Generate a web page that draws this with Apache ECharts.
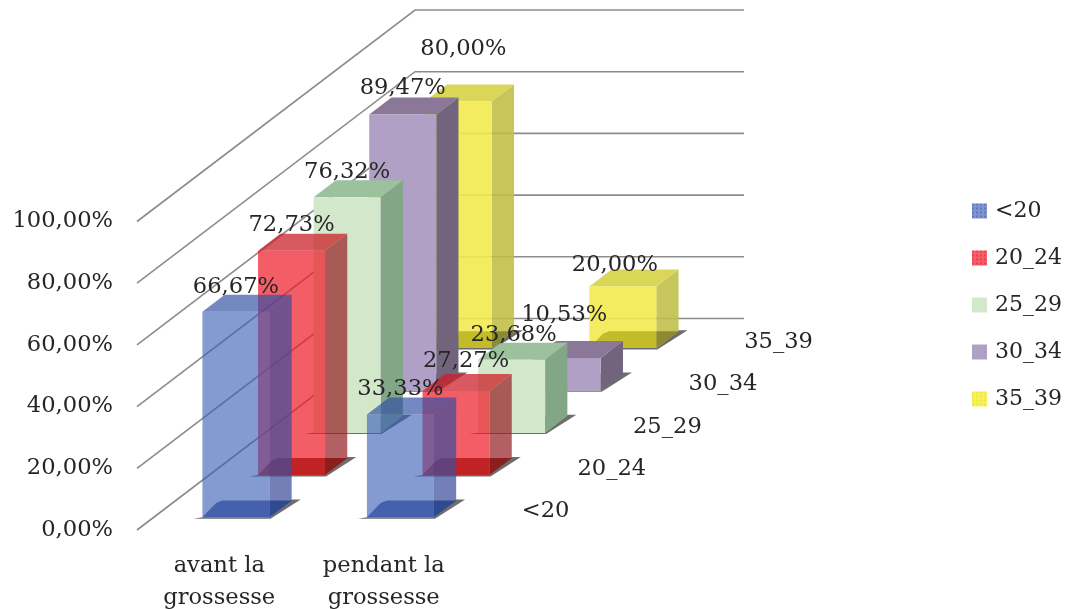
<!DOCTYPE html>
<html><head><meta charset="utf-8">
<style>html,body{margin:0;padding:0;background:#fff}#c{width:1069px;height:609px}</style>
<script src="https://cdn.jsdelivr.net/npm/echarts@6/dist/echarts.min.js"></script>
</head><body><div id="c"></div>
<script>
// ---- data ----
const categories = ['avant la\ngrossesse', 'pendant la\ngrossesse'];
const seriesNames = ['<20', '20_24', '25_29', '30_34', '35_39'];
const valuesUnder20 = [66.67, 33.33];
const values2024 = [72.73, 27.27];
const values2529 = [76.32, 23.68];
const values3034 = [89.47, 10.53];
const values3539 = [80.00, 20.00];
const ticks = [0, 20, 40, 60, 80, 100];

// ---- style ----
const FONT = '"DejaVu Serif"';
const TEXT = '#262626';
const FS = 22.6;
const STEP = [55.6, -42.3];      // projection of one depth row, px
const BAR_RATIO = 67 / 164.5;    // front-face width / category width
const DEPTH_RATIO = 0.4;         // bar depth / depth row
const palette = [
  {legend:'#7e95d0', front:'rgba(57,94,181,.62)', side:'rgba(62,78,155,.72)', top:'rgba(50,80,165,.68)', floor:'#4561ad', floorSide:'#2f4a8f'},
  {legend:'#f3606a', front:'rgba(238,24,37,.7)', side:'rgba(150,35,40,.72)', top:'rgba(205,30,40,.74)', floor:'#c02226', floorSide:'#8a1f1e'},
  {legend:'#d3e8cb', front:'#d3e8cb', side:'#82a686', top:'#9bc29d', floor:'#d3e8cb', floorSide:'#82a686'},
  {legend:'#b0a0c6', front:'#b0a0c6', side:'#72647d', top:'#8b7898', floor:'#b0a0c6', floorSide:'#72647d'},
  {legend:'#f6f05c', front:'rgba(243,234,79,.9)', side:'rgba(190,190,70,.88)', top:'rgba(214,210,70,.9)', floor:'#c2bb2a', floorSide:'#8e8a30'}
];
// hand-placed label shifts in the reference, [dx, dy] per depth row and category
const labelNudge = [
  [[0, 1], [0, 1]],
  [[0, 0], [10, -4]],
  [[0, 1], [2, 1]],
  [[0, 0], [-3, -17]],
  [[5, -26], [-8, 5]]
];

function pct(v) { return v.toFixed(2).replace('.', ',') + '%'; }

function barRender(depth) {
  const c = palette[depth];
  return function (params, api) {
    const cat = api.value(0), val = api.value(1);
    const catW = api.size([1, 0])[0];
    const w = catW * BAR_RATIO;
    const base = api.coord([cat, 0]);
    const head = api.coord([cat, val]);
    const gap = (1 - DEPTH_RATIO) / 2;
    const ox = STEP[0] * (depth + gap), oy = STEP[1] * (depth + gap);
    const dx = STEP[0] * DEPTH_RATIO, dy = STEP[1] * DEPTH_RATIO;
    const x0 = base[0] - w / 2 + ox, x1 = x0 + w;
    const yb = base[1] + oy, yt = head[1] + oy;
    const poly = (pts, fill) => ({type: 'polygon', shape: {points: pts}, style: {fill: fill}, silent: true});
    const n = labelNudge[depth][cat];
    return {
      type: 'group',
      children: [
        poly([[x0 - 9, yb + 1.4], [x1 + 1, yb + 1.4], [x1 + dx + 9, yb + dy - 1], [x1 + dx, yb + dy - 1], [x1, yb], [x0, yb]], 'rgba(60,60,60,.75)'),
        poly([[x1, yb], [x1 + dx, yb + dy], [x1 + dx, yt + dy], [x1, yt]], c.side),
        poly([[x0, yt], [x1, yt], [x1 + dx, yt + dy], [x0 + dx, yt + dy]], c.top),
        poly([[x0, yb], [x1, yb], [x1, yt], [x0, yt]], c.front),
        poly([[x0, yb], [x0 + 10, yb + dy * 0.62], [x0 + 14, yb + dy * 0.86], [x0 + 20, yb + dy], [x1, yb + dy], [x1, yb]], c.floor),
        poly([[x1, yb], [x1, yb + dy], [x1 + dx, yb + dy]], c.floorSide),
        {
          type: 'text', z2: 100, silent: true,
          style: {
            x: (x0 + x1) / 2 + n[0], y: yt - 26 + n[1],
            text: pct(val), fill: TEXT, font: FS + 'px ' + FONT,
            align: 'center', verticalAlign: 'middle'
          }
        }
      ]
    };
  };
}

function barSeries(depth, values) {
  return {
    type: 'custom', name: seriesNames[depth],
    coordinateSystem: 'cartesian2d', silent: true,
    itemStyle: {color: palette[depth].legend},
    encode: {x: 0, y: 1},
    data: values.map((v, i) => [i, v]),
    renderItem: barRender(depth)
  };
}

const wallSeries = {
  type: 'custom', name: 'walls', silent: true, coordinateSystem: 'cartesian2d',
  encode: {x: 0, y: 1},
  data: ticks.map(t => [0, t]),
  renderItem(params, api) {
    const catW = api.size([1, 0])[0];
    const p = api.coord([0, api.value(1)]);
    const xl = p[0] - catW / 2, y = p[1];
    const bx = xl + STEP[0] * seriesNames.length, by = y + STEP[1] * seriesNames.length;
    return {
      type: 'polyline', silent: true,
      shape: {points: [[xl, y], [bx, by], [bx + catW * categories.length, by]]},
      style: {fill: 'none', stroke: '#8c8c8c', lineWidth: 1.6}
    };
  }
};

const depthLabelSeries = {
  type: 'custom', name: 'depthLabels', silent: true, coordinateSystem: 'cartesian2d',
  encode: {x: 0, y: 1},
  data: seriesNames.map((n, i) => [categories.length - 1, 0, i]),
  renderItem(params, api) {
    const catW = api.size([1, 0])[0];
    const d = api.value(2);
    const p = api.coord([api.value(0), 0]);
    return {
      type: 'text', silent: true,
      style: {
        x: p[0] + catW / 2 + STEP[0] * (d + 0.5) + 28,
        y: p[1] + STEP[1] * (d + 0.5) + 2.5,
        text: seriesNames[d], fill: TEXT, font: FS + 'px ' + FONT,
        align: 'left', verticalAlign: 'middle'
      }
    };
  }
};

const decals = [
  {symbol: 'rect', symbolSize: 1, dashArrayX: [2, 2], dashArrayY: [2, 2], color: 'rgba(60,90,180,.5)'},
  {symbol: 'rect', symbolSize: 1, dashArrayX: [2, 2], dashArrayY: [2, 2], color: 'rgba(230,30,50,.5)'},
  null, null,
  {symbol: 'rect', symbolSize: 1, dashArrayX: [2, 2], dashArrayY: [2, 2], color: 'rgba(235,225,30,.6)'}
];

const chart = echarts.init(document.getElementById('c'), null, {renderer: 'canvas'});
chart.setOption({
  animation: false,
  backgroundColor: '#fff',
  grid: {left: 137, top: 221.5, width: 329, height: 308.5, containLabel: false, outerBoundsMode: 'none'},
  xAxis: {
    type: 'category', data: categories,
    axisLine: {show: false}, axisTick: {show: false}, splitLine: {show: false},
    axisLabel: {fontFamily: FONT, fontSize: FS, color: TEXT, lineHeight: 32, margin: 20, interval: 0}
  },
  yAxis: {
    type: 'value', min: 0, max: 100, interval: 20,
    axisLine: {show: false}, axisTick: {show: false}, splitLine: {show: false},
    axisLabel: {fontFamily: FONT, fontSize: FS, color: TEXT, margin: 24, padding: [10, 0, 0, 0], formatter: v => pct(v)}
  },
  legend: {
    orient: 'vertical', left: 967, top: 193,
    icon: 'rect', itemWidth: 15, itemHeight: 15, itemGap: 21,
    textStyle: {fontFamily: FONT, fontSize: 22, color: TEXT, padding: [0, 0, 0, 3], lineHeight: 26},
    selectedMode: false,
    data: seriesNames.map((n, i) => ({
      name: n, icon: 'rect',
      itemStyle: decals[i] ? {color: palette[i].legend, decal: decals[i]} : {color: palette[i].legend}
    }))
  },
  series: [
    wallSeries,
    barSeries(4, values3539),
    barSeries(3, values3034),
    barSeries(2, values2529),
    barSeries(1, values2024),
    barSeries(0, valuesUnder20),
    depthLabelSeries
  ]
});
</script></body></html>
